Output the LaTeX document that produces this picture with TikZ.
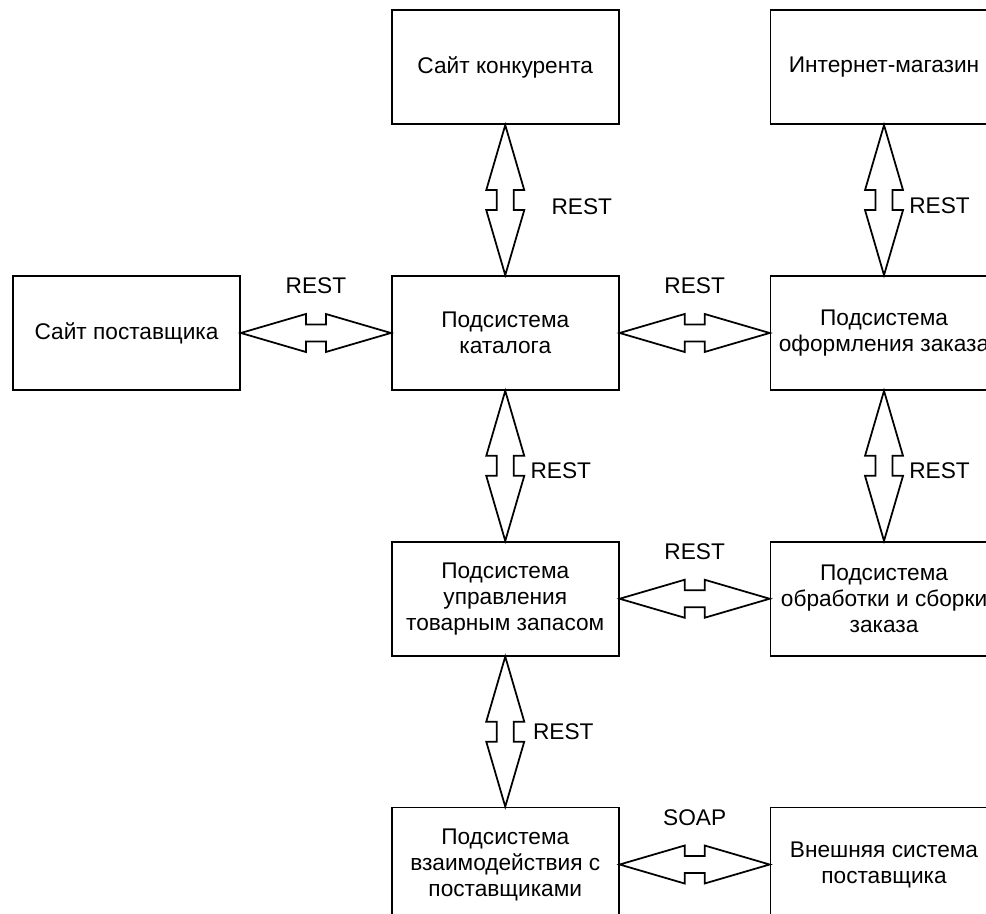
\documentclass[tikz,border=0pt]{standalone}
\usepackage{fontspec}
\setmainfont{Liberation Sans}
\usetikzlibrary{calc,positioning}

\tikzset{
  box/.style={draw, line width=1pt, minimum width=4.54cm, minimum height=2.28cm,
    inner sep=0pt, align=center, font=\fontsize{12.9}{14.8}\selectfont},
  lbl/.style={inner sep=0pt, font=\fontsize{12.9}{14.8}\selectfont},
  % double arrow with a notch in the middle
  link/.style={draw, line width=1pt, to path={
    -- ($(\tikztostart)!.5!(\tikztotarget)!-0.2cm!(\tikztotarget)!0.38cm!90:(\tikztotarget)$)
    -- ($(\tikztostart)!.5!(\tikztotarget)!-0.2cm!(\tikztotarget)!0.17cm!90:(\tikztotarget)$)
    -- ($(\tikztostart)!.5!(\tikztotarget)!0.2cm!(\tikztotarget)!0.17cm!90:(\tikztotarget)$)
    -- ($(\tikztostart)!.5!(\tikztotarget)!0.2cm!(\tikztotarget)!0.38cm!90:(\tikztotarget)$)
    -- (\tikztotarget)
    -- ($(\tikztostart)!.5!(\tikztotarget)!0.2cm!(\tikztotarget)!0.38cm!-90:(\tikztotarget)$)
    -- ($(\tikztostart)!.5!(\tikztotarget)!0.2cm!(\tikztotarget)!0.17cm!-90:(\tikztotarget)$)
    -- ($(\tikztostart)!.5!(\tikztotarget)!-0.2cm!(\tikztotarget)!0.17cm!-90:(\tikztotarget)$)
    -- ($(\tikztostart)!.5!(\tikztotarget)!-0.2cm!(\tikztotarget)!0.38cm!-90:(\tikztotarget)$)
    -- cycle}}
}

\begin{document}
\begin{tikzpicture}[node distance=3cm]
\useasboundingbox (0,0) rectangle (19.72,18.28);
\clip (0,0) rectangle (19.72,18.28);

\node[box] (supl) at (2.53,11.62) {Сайт поставщика};
\node[box, right=of supl] (cat) {Подсистема\\каталога};
\node[box, right=of cat] (order) {Подсистема\\оформления заказа};
\node[box, above=of cat] (konk) {Сайт конкурента};
\node[box, above=of order] (shop) {Интернет-магазин};
\node[box, below=of cat] (stock) {Подсистема\\управления\\товарным запасом};
\node[box, below=of order] (proc) {Подсистема\\обработки и сборки\\заказа};
\node[box, below=of stock] (vzaim) {Подсистема\\взаимодействия с\\поставщиками};
\node[box, below=of proc] (ext) {Внешняя система\\поставщика};

\draw[link] (konk.south) to (cat.north);
\draw[link] (shop.south) to (order.north);
\draw[link] (supl.east) to (cat.west);
\draw[link] (cat.east) to (order.west);
\draw[link] (cat.south) to (stock.north);
\draw[link] (order.south) to (proc.north);
\draw[link] (stock.east) to (proc.west);
\draw[link] (stock.south) to (vzaim.north);
\draw[link] (vzaim.east) to (ext.west);

\node[lbl, anchor=west] (r1) at ($(konk.south)!.5!(cat.north)+(0.92,-0.14)$) {REST};
\node[lbl, anchor=west] (r2) at ($(shop.south)!.5!(order.north)+(0.5,-0.12)$) {REST};
\node[lbl] (r3) at ($(supl.east)!.5!(cat.west)+(0,0.94)$) {REST};
\node[lbl] (r4) at ($(cat.east)!.5!(order.west)+(0,0.94)$) {REST};
\node[lbl, anchor=west] (r5) at ($(cat.south)!.5!(stock.north)+(0.5,-0.1)$) {REST};
\node[lbl, anchor=west] (r6) at ($(order.south)!.5!(proc.north)+(0.5,-0.1)$) {REST};
\node[lbl] (r7) at ($(stock.east)!.5!(proc.west)+(0,0.94)$) {REST};
\node[lbl, anchor=west] (r8) at ($(stock.south)!.5!(vzaim.north)+(0.55,0)$) {REST};
\node[lbl] (s1) at ($(vzaim.east)!.5!(ext.west)+(0,0.94)$) {SOAP};
\end{tikzpicture}
\end{document}
